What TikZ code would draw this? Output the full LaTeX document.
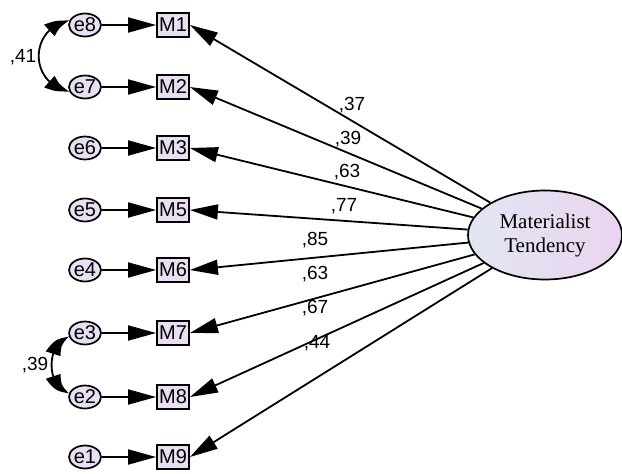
\documentclass[tikz,border=0pt]{standalone}
\usepackage{fontspec}
\setmainfont{Liberation Serif}
\setsansfont{Liberation Sans}
\usetikzlibrary{arrows.meta,bending,shapes.geometric}
\definecolor{boxfill}{RGB}{234,222,242}
\definecolor{errfill}{RGB}{232,224,242}
\definecolor{latleft}{RGB}{226,230,242}
\definecolor{latright}{RGB}{234,212,240}
\begin{document}
\begin{tikzpicture}[x=1pt,y=1pt,
	obs/.style={draw,line width=1.8pt,fill=boxfill,minimum width=32pt,minimum height=24pt,inner sep=0pt,font=\sffamily\fontsize{20}{20}\selectfont},
	err/.style={draw,ellipse,line width=1.7pt,fill=errfill,minimum width=32pt,minimum height=23pt,inner sep=0pt,font=\sffamily\fontsize{20}{20}\selectfont},
	lat/.style={draw,ellipse,line width=1.7pt,left color=latleft,right color=latright,minimum width=154pt,minimum height=89pt,align=center,font=\fontsize{21}{24}\selectfont},
	load/.style={line width=1.8pt,-{Triangle[length=28pt,width=15pt]}},
	cov/.style={line width=1.8pt,{Triangle[length=24pt,width=15pt,bend]}-{Triangle[length=24pt,width=15pt,bend]}},
	coef/.style={font=\sffamily\fontsize{19}{19}\selectfont}]
	\useasboundingbox (0,0) rectangle (622,-474);
	\node[lat] (MT) at (545,-235) {Materialist\\Tendency};
	\foreach \i/\m/\y in {8/1/25,7/2/87,6/3/148,5/5/210,4/6/270,3/7/333,2/8/397,1/9/457}{
		\node[err] (e\i) at (85,-\y) {e\i};
		\node[obs] (M\m) at (173,-\y) {M\m};
		\draw[load] (e\i) -- (M\m);
		\draw[load] (MT) -- (M\m.east);
	}
	\draw[cov] (e8.165) to[out=190,in=170,looseness=1.5] (e7.195);
	\draw[cov] (e3.195) to[out=190,in=170,looseness=1.1] (e2.165);
	\node[coef] (c41) at (23,-57) {,41};
	\node[coef] (c39) at (35,-365) {,39};
	\node[coef] (l1) at (352,-105) {,37};
	\node[coef] (l2) at (348,-139) {,39};
	\node[coef] (l3) at (347,-172) {,63};
	\node[coef] (l5) at (344,-206) {,77};
	\node[coef] (l6) at (315,-240) {,85};
	\node[coef] (l7) at (315,-274) {,63};
	\node[coef] (l8) at (315,-308) {,67};
	\node[coef] (l9) at (317,-343) {,44};
\end{tikzpicture}
\end{document}
